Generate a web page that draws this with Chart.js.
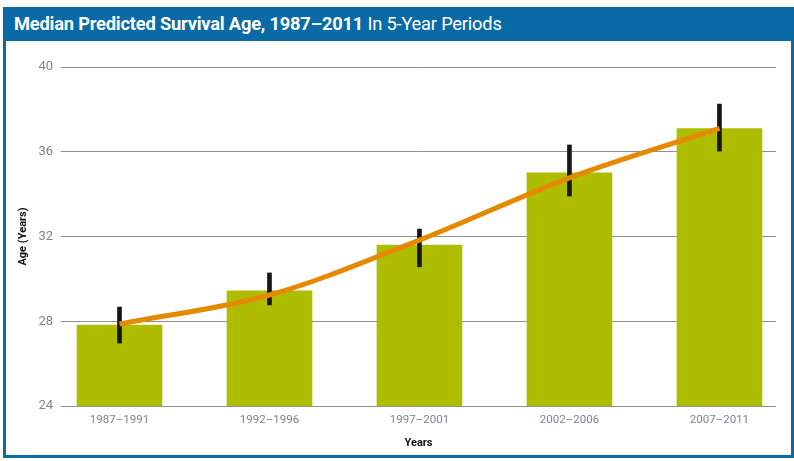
<!DOCTYPE html>
<html>
<head>
<meta charset="utf-8">
<script src="https://cdn.jsdelivr.net/npm/chart.js@4.4.1/dist/chart.umd.min.js"></script>
<style>
  html, body { margin: 0; padding: 0; background: #fff; }
  #wrap { position: relative; width: 794px; height: 461px; overflow: hidden; }
  #frame {
    position: absolute; left: 3px; top: 7px; width: 791px; height: 451px;
    box-sizing: border-box; border: 3px solid #0a6aa6; border-top: none;
  }
  #header {
    position: absolute; left: 3px; top: 7px; width: 791px; height: 34px;
    background: #0a6aa6; color: #fff; box-sizing: border-box;
    padding-left: 11px; line-height: 34px;
    font-family: Roboto, "Noto Sans", sans-serif; font-size: 18.3px; letter-spacing: -0.2px;
  }
  #header b { font-weight: 700; }
  #chart { position: absolute; left: 0; top: 0; }
</style>
</head>
<body>
<div id="wrap">
  <canvas id="chart" width="794" height="461"></canvas>
  <div id="frame"></div>
  <div id="header"><b>Median Predicted Survival Age, 1987–2011</b> In 5-Year Periods</div>
</div>
<script>
  // data
  const periods = ["1987–1991", "1992–1996", "1997–2001", "2002–2006", "2007–2011"];
  const medianAge = [27.82, 29.43, 31.6, 35.01, 37.09];
  const ciLow = [26.97, 28.77, 30.57, 33.91, 36.03];
  const ciHigh = [28.67, 30.28, 32.35, 36.32, 38.25];
  const trendAge = [27.87, 29.24, 31.83, 34.77, 37.1];
  const yTicks = [24, 28, 32, 36, 40];

  const tickGray = "#7d8594";
  const gridGray = "#8f8f8f";

  const ctx = document.getElementById("chart").getContext("2d");
  new Chart(ctx, {
    type: "bar",
    data: {
      datasets: [
        {
          type: "line",
          data: trendAge.map((y, i) => ({ x: i, y })),
          borderColor: "#e58a00",
          borderWidth: 5,
          pointRadius: 0,
          cubicInterpolationMode: "monotone",
          order: 0,
        },
        {
          data: ciLow.map((lo, i) => ({ x: i, y: [lo, ciHigh[i]] })),
          backgroundColor: "#161616",
          barThickness: 4,
          grouped: false,
          order: 1,
        },
        {
          data: medianAge.map((y, i) => ({ x: i, y })),
          backgroundColor: "#afbd00",
          barThickness: 85,
          grouped: false,
          order: 2,
        },
      ],
    },
    options: {
      responsive: false,
      animation: false,
      layout: { padding: { top: 67, right: 18, left: 0, bottom: 0 } },
      plugins: { legend: { display: false }, tooltip: { enabled: false } },
      scales: {
        x: {
          type: "linear",
          offset: false,
          min: -0.39,
          max: 4.377,
          afterBuildTicks: (s) => {
            s.ticks = periods.map((_, i) => ({ value: i }));
          },
          afterFit: (s) => {
            s.height = 55;
          },
          grid: { display: false, drawTicks: false },
          border: { display: false },
          ticks: {
            padding: 7,
            color: tickGray,
            font: { family: "Roboto, 'Noto Sans', sans-serif", size: 11.5 },
            callback: (v) => periods[v] || "",
            maxRotation: 0,
          },
          title: {
            display: true,
            text: "Years",
            color: "#111",
            font: { family: "Roboto, 'Noto Sans', sans-serif", size: 11, weight: "bold" },
            padding: { top: 0, bottom: 11 },
          },
        },
        y: {
          min: 24,
          max: 40,
          afterBuildTicks: (s) => {
            s.ticks = yTicks.map((v) => ({ value: v }));
          },
          afterFit: (s) => {
            s.width = 61;
          },
          grid: { color: gridGray, lineWidth: 1, drawTicks: false },
          border: { display: false },
          ticks: {
            padding: 8,
            color: tickGray,
            font: { family: "Roboto, 'Noto Sans', sans-serif", size: 13 },
          },
          title: {
            display: true,
            text: "Age (Years)",
            color: "#111",
            font: { family: "Roboto, 'Noto Sans', sans-serif", size: 11, weight: "bold" },
            padding: { top: 17, bottom: 0 },
          },
        },
      },
    },
  });
</script>
</body>
</html>
